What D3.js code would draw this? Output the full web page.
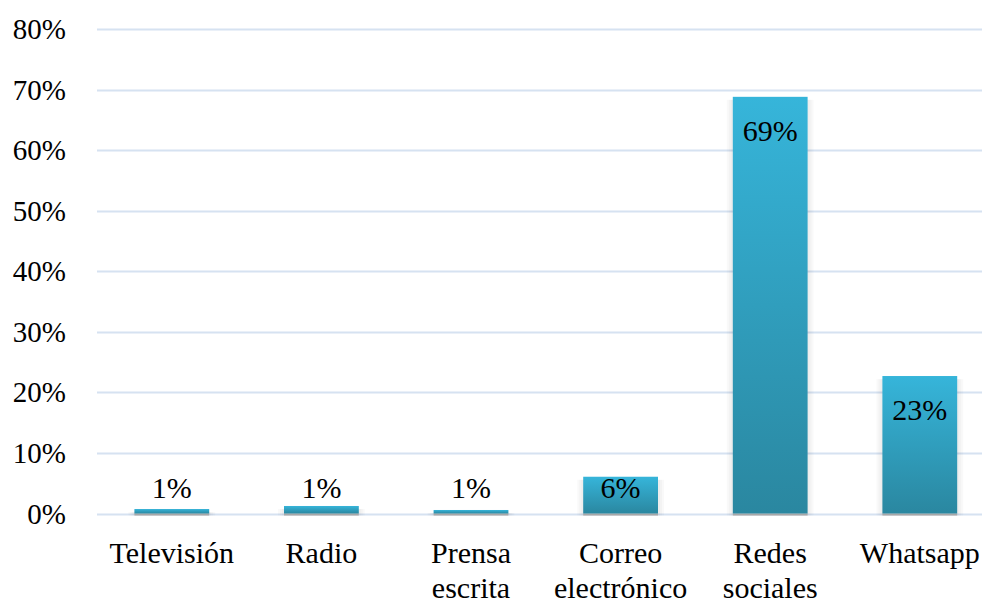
<!DOCTYPE html>
<html><head><meta charset="utf-8">
<script src="https://cdn.jsdelivr.net/npm/d3@7"></script>
</head><body style="margin:0">
<svg id="chart" width="982" height="603"></svg>
<script>
const categories = [["Televisión"], ["Radio"], ["Prensa", "escrita"], ["Correo", "electrónico"], ["Redes", "sociales"], ["Whatsapp"]];
const values = [0.0074, 0.0124, 0.0058, 0.0607, 0.688, 0.227];
const labels = ["1%", "1%", "1%", "6%", "69%", "23%"];
const yTicks = [0, 0.1, 0.2, 0.3, 0.4, 0.5, 0.6, 0.7, 0.8];

const FONT = '"Liberation Serif"';
const svg = d3.select("#chart");
const x = d3.scaleBand().domain(d3.range(categories.length)).range([97, 994.6]).paddingInner(0.5).paddingOuter(0.25);
const y = d3.scaleLinear().domain([0, 0.8]).range([513.5, 29]);

const defs = svg.append("defs");
const grad = defs.append("linearGradient").attr("id", "barGrad").attr("x1", 0).attr("y1", 0).attr("x2", 0).attr("y2", 1);
grad.append("stop").attr("offset", "0%").attr("stop-color", "#36b5da");
grad.append("stop").attr("offset", "100%").attr("stop-color", "#2a87a0");

// gridlines
svg.append("g").selectAll("line").data(yTicks).join("line")
  .attr("x1", 97).attr("x2", 982)
  .attr("y1", d => Math.round(y(d)) + 0.5).attr("y2", d => Math.round(y(d)) + 0.5)
  .attr("stroke", "#d6e2f1").attr("stroke-width", 2);

const idx = d3.range(values.length);
// soft shadows (layered translucent rects)
[6, 4, 2].forEach((pad, k) => {
  svg.append("g").selectAll("rect").data(idx).join("rect")
    .attr("x", i => x(i) - pad).attr("width", x.bandwidth() + 2 * pad)
    .attr("y", i => y(values[i]) + 3).attr("height", i => y(0) - y(values[i]) - 1)
    .attr("fill", "#000").attr("fill-opacity", 0.025);
});
svg.append("g").selectAll("rect").data(idx).join("rect")
  .attr("x", i => x(i)).attr("width", x.bandwidth())
  .attr("y", y(0)).attr("height", 2)
  .attr("fill", "#a8a8a8");
// bars
svg.append("g").selectAll("rect").data(idx).join("rect")
  .attr("x", i => x(i)).attr("width", x.bandwidth())
  .attr("y", i => y(values[i])).attr("height", i => y(0) - y(values[i]))
  .attr("fill", "url(#barGrad)");

// y axis labels
svg.selectAll("text.ytick").data(yTicks).join("text").attr("class", "ytick")
  .attr("x", 66).attr("y", d => y(d) + 10)
  .style("font-family", FONT).attr("font-size", 29).attr("fill", "#000").attr("text-anchor", "end")
  .text(d => d3.format(".0%")(d));

// data labels
svg.selectAll("text.dlab").data(idx).join("text").attr("class", "dlab")
  .attr("x", i => x(i) + x.bandwidth() / 2)
  .attr("y", i => Math.min(y(values[i]) + 34, y(0) - 26) + 10)
  .style("font-family", FONT).attr("font-size", 30).attr("fill", "#000").attr("text-anchor", "middle")
  .text(i => labels[i]);

// category labels
const catLines = [];
categories.forEach((lines, i) => lines.forEach((line, k) => catLines.push({i, k, line})));
svg.selectAll("text.cat").data(catLines).join("text").attr("class", "cat")
  .attr("x", d => x(d.i) + x.bandwidth() / 2).attr("y", d => 563 + d.k * 35)
  .style("font-family", FONT).attr("font-size", 30).attr("fill", "#000").attr("text-anchor", "middle")
  .text(d => d.line);
</script>
</body></html>
